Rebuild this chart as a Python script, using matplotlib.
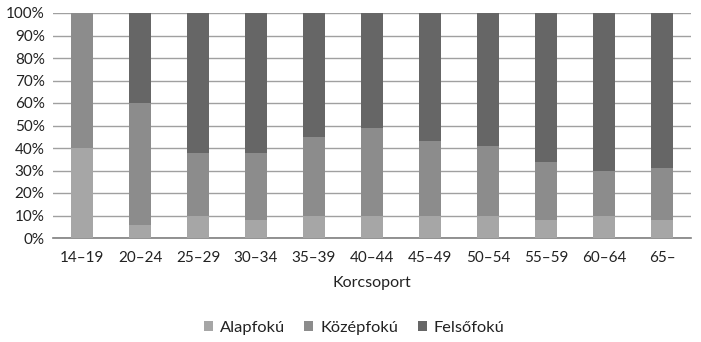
import matplotlib
matplotlib.use("Agg")
import matplotlib.pyplot as plt
import numpy as np

categories = ["14–19", "20–24", "25–29", "30–34", "35–39", "40–44", "45–49", "50–54", "55–59", "60–64", "65–"]
alapfoku = [40, 6, 10, 8, 10, 10, 10, 10, 8, 10, 8]
kozepfoku = [60, 54, 28, 30, 35, 39, 33, 31, 26, 20, 23]
felsofoku = [0, 40, 62, 62, 55, 51, 57, 59, 66, 70, 69]
series_names = ["Alapfokú", "Középfokú", "Felsőfokú"]
colors = ["#a6a6a6", "#8c8c8c", "#666666"]

plt.rcParams['font.family'] = ['Lato', 'DejaVu Sans']

fig = plt.figure(figsize=(7.01, 3.42), dpi=100)
ax = fig.add_axes([53/701, 1 - 238/342, 638/701, 225/342])

x = np.arange(len(categories))
w = 0.38
bottom = np.zeros(len(categories))
for name, vals, c in zip(series_names, [alapfoku, kozepfoku, felsofoku], colors):
    ax.bar(x, vals, w, bottom=bottom, color=c, label=name, zorder=3)
    bottom += np.array(vals)

ax.set_xlim(-0.5, len(categories) - 0.5)
ax.set_ylim(0, 100)
ax.set_yticks(np.arange(0, 101, 10))
ax.set_yticklabels([f"{v}%" for v in range(0, 101, 10)])
ax.set_xticks(x)
ax.set_xticklabels(categories)
ax.yaxis.grid(True, color="#a0a0a0", linewidth=1, zorder=0)
ax.set_axisbelow(True)
for s in ["top", "right", "left"]:
    ax.spines[s].set_visible(False)
ax.spines["bottom"].set_color("#7f7f7f")
ax.spines["bottom"].set_linewidth(1.2)
ax.tick_params(axis="both", length=0, labelsize=11, colors="#222222")
ax.tick_params(axis="x", pad=9)
ax.tick_params(axis="y", pad=6)
ax.set_xlabel("Korcsoport", fontsize=11.5, color="#222222", labelpad=8)

leg = fig.legend(loc="center", bbox_to_anchor=(354/701, 1 - 328/342), ncol=3, frameon=False,
                 fontsize=11.8, handlelength=0.55, handleheight=0.55, handletextpad=0.4, columnspacing=1.2)
for t in leg.get_texts():
    t.set_color("#222222")

fig.savefig("out.png", dpi=100)
